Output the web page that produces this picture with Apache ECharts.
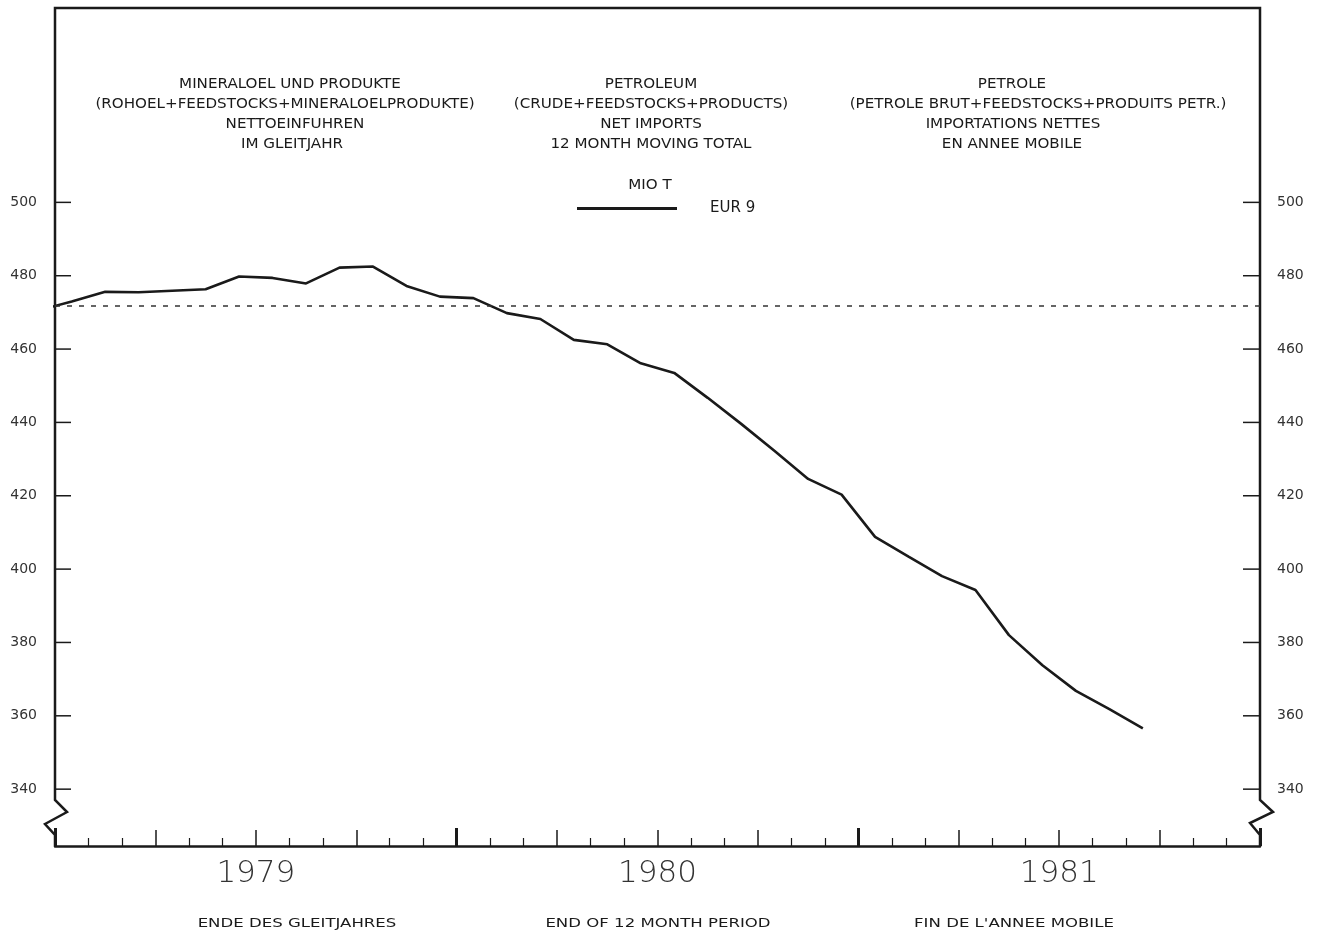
<!DOCTYPE html>
<html>
<head>
<meta charset="utf-8">
<script src="https://cdn.jsdelivr.net/npm/echarts@6/dist/echarts.min.js"></script>
<style>
html,body{margin:0;padding:0;background:#fff;}
#chart{width:1322px;height:937px;}
</style>
</head>
<body>
<div id="chart"></div>
<script>
// ---- data ----
var months = ['1978-12','1979-01','1979-02','1979-03','1979-04','1979-05','1979-06','1979-07','1979-08','1979-09','1979-10','1979-11','1979-12',
  '1980-01','1980-02','1980-03','1980-04','1980-05','1980-06','1980-07','1980-08','1980-09','1980-10','1980-11','1980-12',
  '1981-01','1981-02','1981-03','1981-04','1981-05','1981-06','1981-07','1981-08','1981-09'];
var eur9 = [470.5,473.0,475.6,475.5,475.9,476.3,479.8,479.4,477.9,482.2,482.5,477.2,474.3,
  473.9,469.8,468.2,462.5,461.3,456.1,453.5,446.7,439.6,432.2,424.6,420.3,
  408.8,403.4,398.1,394.3,382.0,373.8,366.8,361.8,356.6];
var referenceLevel = 471.8;
var yTicks = [340,360,380,400,420,440,460,480,500];
var yearLabels = ['1979','1980','1981'];
var seriesName = 'EUR 9';
var unitLabel = 'MIO T';
var headerDE = ['MINERALOEL UND PRODUKTE','(ROHOEL+FEEDSTOCKS+MINERALOELPRODUKTE)','NETTOEINFUHREN','IM GLEITJAHR'];
var headerEN = ['PETROLEUM','(CRUDE+FEEDSTOCKS+PRODUCTS)','NET IMPORTS','12 MONTH MOVING TOTAL'];
var headerFR = ['PETROLE','(PETROLE BRUT+FEEDSTOCKS+PRODUITS PETR.)','IMPORTATIONS NETTES','EN ANNEE MOBILE'];
var footer = ['ENDE DES GLEITJAHRES','END OF 12 MONTH PERIOD',"FIN DE L'ANNEE MOBILE"];

// month index: centre of month, Jan 1979 = 0.5
function mIdx(s){var p=s.split('-');return (+p[0]-1979)*12+(+p[1]-1)+0.5;}
var lineData = months.map(function(m,i){return [mIdx(m), eur9[i]];});

var chart = echarts.init(document.getElementById('chart'));
var font = "'DejaVu Sans', sans-serif";
var ink = '#1a1a1a';
var yMin = 324.5, yMax = 553;

function textEl(t, x, y, size, sx){
  return {type:'text', x:x, y:y, scaleX:sx||1,
    style:{text:t, fill:ink, font:size+'px '+font, textAlign:'center', textVerticalAlign:'middle'}, silent:true};
}
function headerTexts(lines, xs){
  return lines.map(function(t,i){ return textEl(t, xs[i], 84+i*20, 14, 1.08); });
}

var yLabelCommon = {show:true,customValues:yTicks,fontFamily:font,fontSize:14,color:'#333'};

var option = {
  backgroundColor:'#ffffff',
  animation:false,
  grid:{left:55,right:62,top:8,bottom:91,containLabel:false},
  legend:{
    show:true, left:572, top:196, itemWidth:100, itemHeight:3, icon:'rect',
    data:[seriesName],
    textStyle:{fontFamily:font,fontSize:15,color:ink,padding:[0,0,0,28]}
  },
  xAxis:[{
    type:'value', min:0, max:36, interval:3, position:'bottom',
    axisLine:{show:true,onZero:false,lineStyle:{color:ink,width:2.5}},
    axisTick:{show:true,inside:true,length:16,lineStyle:{color:ink,width:1.5}},
    minorTick:{show:true,splitNumber:3,length:8,lineStyle:{color:ink,width:1.2}},
    splitLine:{show:false},
    axisLabel:{show:true,customValues:[6,18,30],margin:12,
      formatter:function(v){return yearLabels[Math.round((v-6)/12)];},
      fontFamily:font,fontWeight:200,fontSize:31,color:'#333'}
  },{
    type:'value', min:0, max:36, interval:12, position:'bottom',
    axisLine:{show:false},
    axisTick:{show:true,inside:true,length:18,lineStyle:{color:ink,width:3}},
    splitLine:{show:false}, axisLabel:{show:false}
  }],
  yAxis:[{
    type:'value', min:yMin, max:yMax, position:'left',
    axisLine:{show:false}, axisTick:{show:false},
    axisLabel:Object.assign({margin:18},yLabelCommon),
    splitLine:{show:false}
  },{
    type:'value', min:yMin, max:yMax, position:'right',
    axisLine:{show:false}, axisTick:{show:false},
    axisLabel:Object.assign({margin:17},yLabelCommon),
    splitLine:{show:false}
  }],
  series:[{
    name:seriesName, type:'line', data:lineData, xAxisIndex:0, yAxisIndex:0,
    symbol:'none', smooth:false, clip:true,
    lineStyle:{color:ink,width:2.6},
    itemStyle:{color:ink},
    markLine:{
      silent:true, symbol:['none','none'], label:{show:false},
      lineStyle:{color:'#333',width:1.5,type:[5,7]},
      data:[{yAxis:referenceLevel}]
    }
  }]
};
chart.setOption(option);

// frame with axis breaks, computed from the grid
var tl = chart.convertToPixel({gridIndex:0},[0,yMax]);
var br = chart.convertToPixel({gridIndex:0},[36,yMin]);
var L = tl[0], T = tl[1], R = br[0], B = br[1];
var framePts = [
  [L,B],[L,B-11],[L-10,B-22],[L+12,B-34],[L,B-46],[L,T],
  [R,T],[R,B-46],[R+13,B-34],[R-10,B-23],[R,B-11],[R,B]
];
var graphics = [{type:'polyline', shape:{points:framePts}, style:{stroke:ink,lineWidth:2.5,fill:null}, silent:true}];
// y ticks (inside, both sides) placed through the axis scale
yTicks.forEach(function(v){
  var py = chart.convertToPixel({yAxisIndex:0}, v);
  graphics.push({type:'line', shape:{x1:L,y1:py,x2:L+16,y2:py}, style:{stroke:ink,lineWidth:1.5}, silent:true});
  graphics.push({type:'line', shape:{x1:R-17,y1:py,x2:R,y2:py}, style:{stroke:ink,lineWidth:1.5}, silent:true});
});
graphics = graphics.concat(headerTexts(headerDE,[290,285,295,292]));
graphics = graphics.concat(headerTexts(headerEN,[651,651,651,651]));
graphics = graphics.concat(headerTexts(headerFR,[1012,1038,1013,1012]));
graphics.push(textEl(unitLabel, 650, 185, 14, 1.08));
var fx = [297,658,1014];
footer.forEach(function(t,i){ graphics.push(textEl(t, fx[i], 924, 12, 1.38)); });
chart.setOption({graphic:graphics});
</script>
</body>
</html>
